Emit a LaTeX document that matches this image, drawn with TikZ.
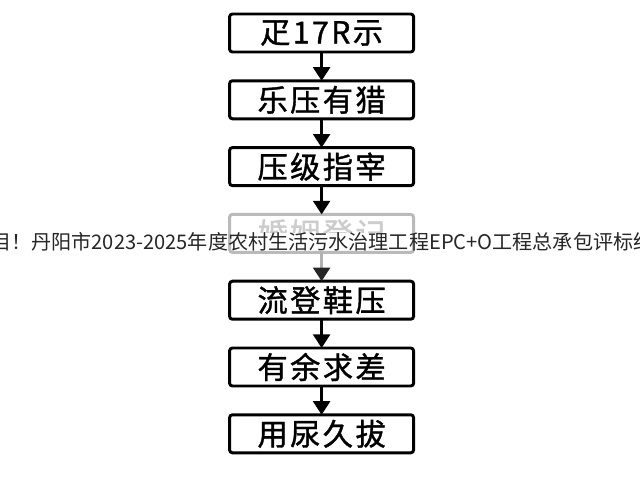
\documentclass[tikz,border=0pt]{standalone}
\usepackage{fontspec}
\usepackage{tikz}
\usetikzlibrary{arrows.meta}
\newfontfamily\cjk{Noto Sans CJK SC}
\newfontfamily\cjkbox[FakeBold=1.2,LetterSpace=8]{Noto Sans CJK SC}

\begin{document}
\begin{tikzpicture}[every node/.style={outer sep=0pt},
  stage/.style={draw, line width=2.1pt, rounded corners=2pt, minimum width=4.6cm, minimum height=0.95cm, font=\cjkbox\fontsize{21.5}{24}\selectfont},
  stagefaded/.style={stage, draw=black!27, text=black!20},
  flow/.style={line width=2.1pt, -{Triangle[width=0.42cm,length=0.34cm]}}]
\clip (0,0) rectangle (16,12);
\fill[white] (0,0) rectangle (16,12);

\node[stage] (s1) at (8.04,11.175) {疋17R示};
\node[stage] (s2) at (8.04,9.505) {乐压有猎};
\node[stage] (s3) at (8.04,7.835) {压级指宰};
\node[stagefaded] (s4) at (8.04,6.165) {婚姻登记};
\node[stage] (s5) at (8.04,4.495) {流登鞋压};
\node[stage] (s6) at (8.04,2.825) {有余求差};
\node[stage] (s7) at (8.04,1.155) {用尿久拔};

\draw[flow] (s1) -- (s2);
\draw[flow] (s2) -- (s3);
\draw[flow] (s3) -- (s4);
\draw[flow, draw=black!30, -{Triangle[width=0.42cm,length=0.34cm,color=black!85]}] (s4) -- (s5);
\draw[flow] (s5) -- (s6);
\draw[flow] (s6) -- (s7);

% overlay line, it hides the lower half of the faded box text
\fill[white] ([shift={(0.06,0.05)}]s4.south west) rectangle ([xshift=-0.06cm]s4.east);
\node[anchor=west, inner sep=0pt, text=black!85, font=\cjk\fontsize{14.3}{16}\selectfont] (banner) at (-0.22,5.96) {目！丹阳市2023-2025年度农村生活污水治理工程EPC+O工程总承包评标结果};
\end{tikzpicture}
\end{document}
